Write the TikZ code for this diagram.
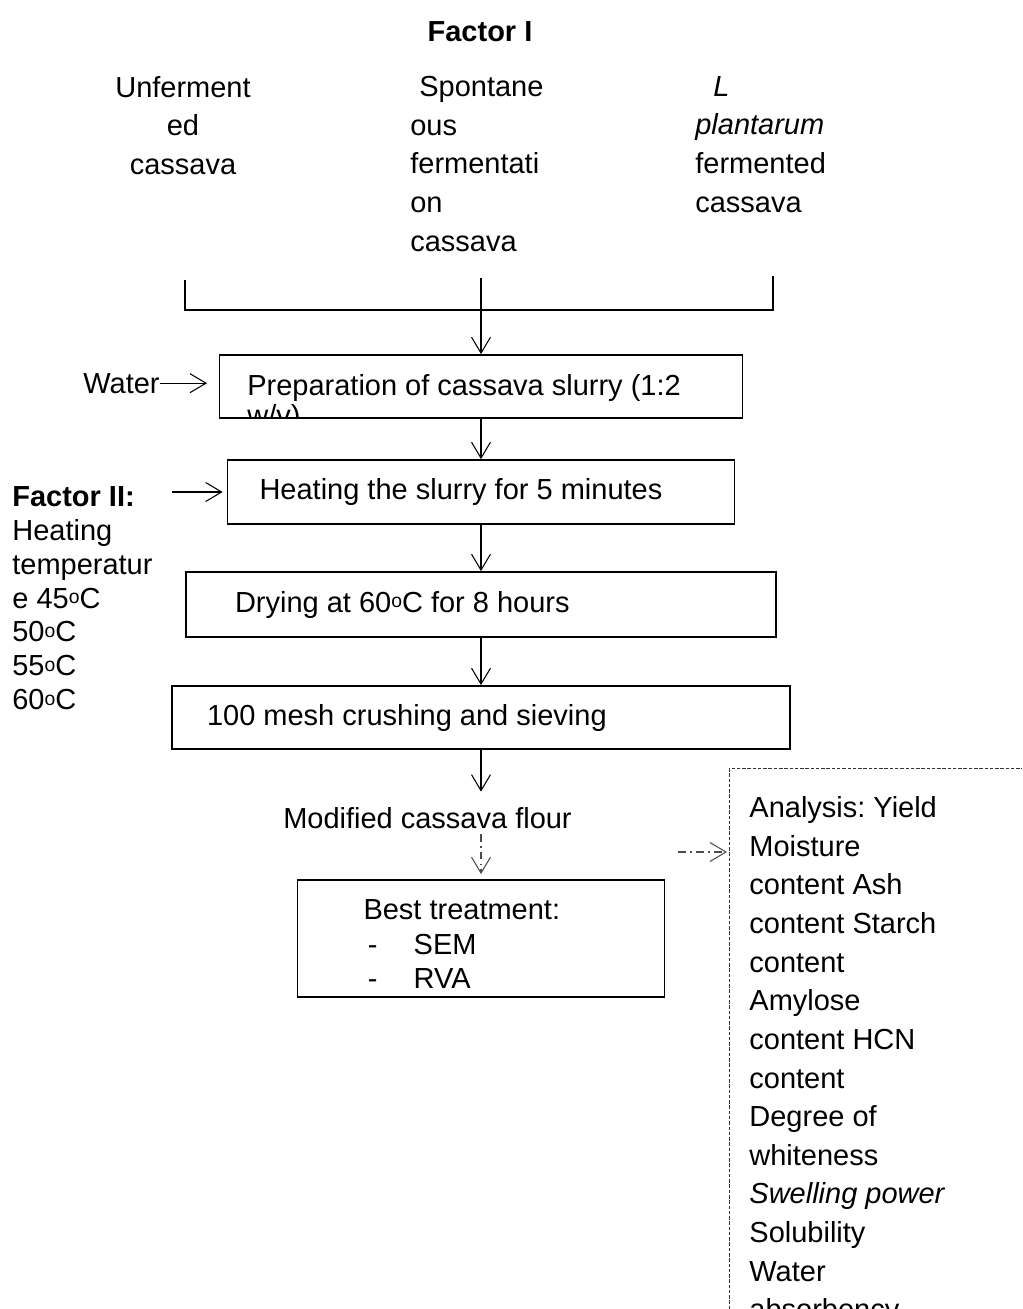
\documentclass[tikz,border=0pt]{standalone}
\usepackage{fontspec}
\setmainfont{Liberation Sans}
\usetikzlibrary{arrows.meta,positioning,calc}
\newcommand{\dego}{\raisebox{2.6pt}{\fontsize{11}{11}\selectfont o}}
\frenchspacing

\begin{document}
\begin{tikzpicture}[x=0.02cm,y=-0.02cm,
font=\fontsize{16.5}{22}\selectfont,
txt/.style={inner sep=0pt,align=flush left},
box/.style={draw,line width=1pt,inner ysep=0pt,align=flush left},
arrow/.style={-{Straight Barb[length=3.2mm,width=3.8mm]},line width=0.6pt},
dasharrow/.style={arrow,black!70,dash pattern=on 4.5pt off 2.3pt on 1.1pt off 2.3pt},
probe/.style={txt,draw=black!80,line width=0.5pt,dash pattern=on 2pt off 1pt}]
\useasboundingbox (0,0) rectangle (1022,1309);
\clip (0,0) rectangle (1022,1309);
\node[txt,anchor=north] (factorone) at (480,21) {\textbf{Factor I}};
\node[txt,anchor=north,align=flush center] (unferm) at (183,76) {Unferment\\ed\\cassava};
\node[txt,anchor=north west] (spont) at (410,76) {\hspace*{0.31em}Spontane\\ous\\fermentati\\on\\cassava};
\node[txt,anchor=north west] (lplant) at (695,76) {\hspace*{0.62em}\textit{L}\\\textit{plantarum}\\fermented\\cassava};
\coordinate (lt) at (185,280); \coordinate (lb) at (185,310);
\coordinate (rt) at (773,276); \coordinate (rb) at (773,310);
\coordinate (ct) at (481,278);
\draw[line width=0.6pt] (lt)--(lb)--(rb)--(rt);
\node[box,minimum width=10.46cm,minimum height=1.26cm] (slurry) at (481,386.5) {};
\begin{scope}
\clip (slurry.south west) rectangle (slurry.north east);
\node[txt,anchor=north west,font=\fontsize{16.5}{17}\selectfont] (slurrytext) at (247,374) {Preparation of cassava slurry (1:2\\w/v)};
\end{scope}
\node[box,minimum width=10.14cm,minimum height=1.28cm,inner xsep=0.64cm,text width=8.86cm] (heat) at (481,492) {Heating the slurry for 5 minutes};
\node[box,minimum width=11.8cm,minimum height=1.3cm,inner xsep=0.98cm,text width=9.84cm] (dry) at (481,604.5) {Drying at 60\dego C for 8 hours};
\node[box,minimum width=12.36cm,minimum height=1.26cm,inner xsep=0.7cm,text width=10.96cm] (mesh) at (481,717.5) {100 mesh crushing and sieving};
\node[txt,anchor=base] (flour) at (427.5,828) {Modified cassava flour};
\node[box,minimum width=7.34cm,minimum height=2.34cm,inner xsep=1.32cm,text width=4.7cm,font=\fontsize{16.5}{19.9}\selectfont] (best) at (481,938.5) {\rule{0pt}{0.62cm}Best treatment:\\\hspace*{0.15em}-\hspace{1.25em}SEM\\\hspace*{0.15em}-\hspace{1.25em}RVA};
\node[txt,anchor=base west] (water) at (83,393) {Water};
\coordinate (wend) at (207,384);
\node[txt,anchor=north west,font=\fontsize{16.5}{19.3}\selectfont] (factortwo) at (12,486) {\textbf{Factor II:}\\Heating\\temperatur\\e 45\dego C\\50\dego C\\55\dego C\\60\dego C};
\coordinate (ftail) at (172,492);
\node[probe,anchor=north west,inner xsep=0.4cm,inner ysep=0.56cm,text width=6cm] (analysis) at (729,768) {Analysis: Yield\\Moisture\\content Ash\\content Starch\\content\\Amylose\\content HCN\\content\\Degree of\\whiteness\\\textit{Swelling power}\\Solubility\\Water\\absorbency};
\coordinate (dtail) at (678,852);
% flow
\draw[arrow] (ct)--(slurry);\draw[arrow] (water.east)--(water.east -| wend);
\draw[arrow,shorten >=0.08cm] (ftail)--(heat.west);
\draw[arrow] (slurry)--(heat);\draw[arrow] (heat)--(dry);\draw[arrow] (dry)--(mesh);
\draw[arrow,shorten >=0.3cm] (mesh)--(mesh |- flour.north);
\draw[dasharrow,shorten <=0.1cm,shorten >=0.1cm] (flour.south -| best.north)--(best);
\draw[dasharrow,shorten >=0.04cm] (dtail)--(dtail -| analysis.west);
\end{tikzpicture}
\end{document}
